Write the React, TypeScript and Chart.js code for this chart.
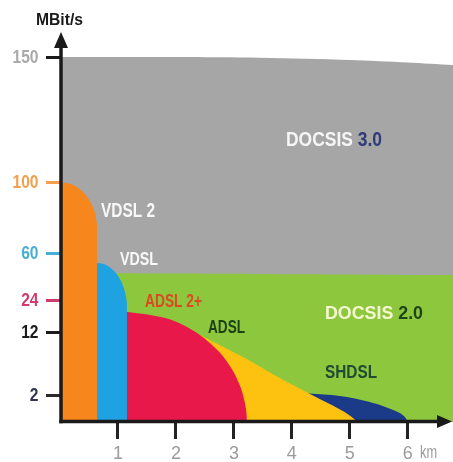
import React, { useEffect, useRef } from 'react';
import { Chart, registerables, LinearScale } from 'chart.js';

Chart.register(...registerables);

// ---------------- data ----------------
const xUnit = 'km';
const yUnit = 'MBit/s';
const xTickValues = [1, 2, 3, 4, 5, 6];
const xTickLabels = ['1', '2', '3', '4', '5', '6'];
const yTickValues = [2, 12, 24, 60, 100, 150];
const yTickLabels = ['2', '12', '24', '60', '100', '150'];

// distance (km) / speed (MBit/s) outlines of each technology
const docsis30Km = [0, 2, 3.45, 5, 6, 6.78];
const docsis30Speed = [150, 150, 149.7, 148.8, 147.8, 146.8];

const docsis20Km = [0, 3.4, 6.78];
const docsis20Speed = [44.7, 44, 43.1];

const vdsl2Km = [0, 0.22, 0.41, 0.52, 0.6, 0.63, 0.64, 0.64];
const vdsl2Speed = [100, 98.5, 94, 89, 83, 78, 74.5, 0];

const vdslKm = [0, 0.64, 0.82, 0.97, 1.06, 1.12, 1.15, 1.155, 1.155];
const vdslSpeed = [52.3, 52.3, 50.3, 44.5, 37.9, 30.1, 23.7, 21.4, 0];

const adsl2pKm = [0.9, 1.155, 1.86, 2.34, 2.74, 2.98, 3.12, 3.19, 3.22, 3.224];
const adsl2pSpeed = [19.5, 19.5, 17.0, 12.0, 8.9, 5.9, 3.1, 1.4, 0.57, 0];

const adslKm = [0.9, 1.155, 2.19, 2.76, 3.28, 3.79, 4.48, 4.91, 5.14];
const adslSpeed = [18, 17.25, 12.75, 9.9, 7.4, 4.7, 1.7, 0.74, 0];

const shdslKm = [3.28, 4.43, 4.95, 5.52, 5.86, 5.95, 6.0];
const shdslSpeed = [2.3, 2.16, 1.85, 1.26, 0.67, 0.37, 0];

// ---------------- styling ----------------
const yKnotValues = [0, ...yTickValues];
const yKnotFractions = [0, 27 / 365, 90 / 365, 122 / 365, 169 / 365, 240 / 365, 1];
const yTickColors = ['#2f3552', '#1a1a1a', '#cf3c6c', '#4aaed2', '#f3a04e', '#a9a9a9'];
const yTickMarkColors = ['#2a2a2a', '#1a1a1a', '#cf3c6c', '#4aaed2', '#f3a04e', '#1a1a1a'];

function valueToFraction(v: number): number {
  const vs = yKnotValues;
  const fs = yKnotFractions;
  for (let i = 1; i < vs.length; i++) {
    if (v <= vs[i] || i === vs.length - 1) {
      return fs[i - 1] + ((v - vs[i - 1]) / (vs[i] - vs[i - 1])) * (fs[i] - fs[i - 1]);
    }
  }
  return 0;
}
function fractionToValue(f: number): number {
  const vs = yKnotValues;
  const fs = yKnotFractions;
  for (let i = 1; i < fs.length; i++) {
    if (f <= fs[i] || i === fs.length - 1) {
      return vs[i - 1] + ((f - fs[i - 1]) / (fs[i] - fs[i - 1])) * (vs[i] - vs[i - 1]);
    }
  }
  return 0;
}

class SpeedScale extends LinearScale {
  static id = 'speed';
  static defaults = {};
  getPixelForValue(value: number) {
    return this.getPixelForDecimal(valueToFraction(value));
  }
  getValueForPixel(pixel: number) {
    return fractionToValue(this.getDecimalForPixel(pixel));
  }
}
Chart.register(SpeedScale as any);

const series = [
  { label: 'VDSL 2', km: vdsl2Km, speed: vdsl2Speed, color: '#f7861c' },
  { label: 'VDSL', km: vdslKm, speed: vdslSpeed, color: '#1ea2e2' },
  { label: 'ADSL 2+', km: adsl2pKm, speed: adsl2pSpeed, color: '#e8184b' },
  { label: 'ADSL', km: adslKm, speed: adslSpeed, color: '#fdc20f' },
  { label: 'SHDSL', km: shdslKm, speed: shdslSpeed, color: '#1b3a87' },
  { label: 'DOCSIS 2.0', km: docsis20Km, speed: docsis20Speed, color: '#8dc73d' },
  { label: 'DOCSIS 3.0', km: docsis30Km, speed: docsis30Speed, color: '#a6a6a6' },
];

const FONT = '"Liberation Sans", Arial, sans-serif';

function drawText(
  ctx: CanvasRenderingContext2D,
  parts: { text: string; color: string }[],
  x: number,
  cy: number,
  size: number,
  opts: { width?: number; sx?: number; weight?: string; align?: 'left' | 'right' }
) {
  const weight = opts.weight || 'bold';
  ctx.save();
  ctx.font = `${weight} ${size}px ${FONT}`;
  const widths = parts.map((p) => ctx.measureText(p.text).width);
  const total = widths.reduce((a, b) => a + b, 0);
  const sx = opts.width ? opts.width / total : opts.sx || 1;
  const left = opts.align === 'right' ? x - total * sx : x;
  ctx.translate(left, cy);
  ctx.scale(sx, 1);
  ctx.textBaseline = 'middle';
  ctx.textAlign = 'left';
  let cx = 0;
  parts.forEach((p, i) => {
    ctx.fillStyle = p.color;
    ctx.fillText(p.text, cx, 0);
    cx += widths[i];
  });
  ctx.restore();
}

const overlayPlugin = {
  id: 'overlay',
  afterDraw(chart: any) {
    const ctx: CanvasRenderingContext2D = chart.ctx;
    const xs = chart.scales.x;
    const ys = chart.scales.y;
    const ax = xs.getPixelForValue(0) + 1;
    const ay = ys.getPixelForValue(0) - 0.5;
    ctx.save();
    ctx.strokeStyle = '#1a1a1a';
    ctx.fillStyle = '#1a1a1a';
    ctx.lineWidth = 3.5;
    ctx.beginPath();
    ctx.moveTo(ax, ay + 1.75);
    ctx.lineTo(ax, 46);
    ctx.stroke();
    ctx.beginPath();
    ctx.moveTo(ax, 32);
    ctx.lineTo(ax - 7, 48);
    ctx.lineTo(ax + 7, 48);
    ctx.closePath();
    ctx.fill();
    ctx.beginPath();
    ctx.moveTo(ax - 1.75, ay);
    ctx.lineTo(440, ay);
    ctx.stroke();
    ctx.beginPath();
    ctx.moveTo(452, ay);
    ctx.lineTo(437, ay - 6.5);
    ctx.lineTo(437, ay + 6.5);
    ctx.closePath();
    ctx.fill();
    ctx.restore();

    // y tick labels (condensed bold, coloured) placed via the scale
    yTickValues.forEach((v, i) => {
      drawText(ctx, [{ text: yTickLabels[i], color: yTickColors[i] }], 38.5, ys.getPixelForValue(v) + 0.5, 19, {
        sx: 0.82,
        align: 'right',
      });
    });

    drawText(ctx, [{ text: yUnit, color: '#1a1a1a' }], 36, 21, 16, { width: 47 });
    drawText(ctx, [{ text: xUnit, color: '#9b9b9b' }], 420, 453, 18, { width: 17, weight: 'normal' });
    drawText(ctx, [{ text: 'DOCSIS ', color: '#f6f6f6' }, { text: '3.0', color: '#2e3c78' }], 286, 140, 20, { width: 96 });
    drawText(ctx, [{ text: 'VDSL 2', color: '#f8f8f8' }], 101, 211, 20, { width: 54 });
    drawText(ctx, [{ text: 'VDSL', color: '#f8f8f8' }], 120, 260, 19, { width: 38 });
    drawText(ctx, [{ text: 'ADSL 2+', color: '#dc4a22' }], 145, 302, 19, { width: 57 });
    drawText(ctx, [{ text: 'ADSL', color: '#1d3f14' }], 208, 328, 18.5, { width: 37 });
    drawText(ctx, [{ text: 'DOCSIS ', color: '#f3f8cf' }, { text: '2.0', color: '#1f4418' }], 325, 314, 19, { width: 98 });
    drawText(ctx, [{ text: 'SHDSL', color: '#214b35' }], 325, 373, 18.5, { width: 52 });
  },
};

export default function App() {
  const ref = useRef<HTMLCanvasElement | null>(null);
  useEffect(() => {
    if (!ref.current) return;
    const chart = new Chart(ref.current, {
      type: 'line',
      data: {
        datasets: series.map((s) => ({
          label: s.label,
          data: s.km.map((x, i) => ({ x, y: s.speed[i] })),
          backgroundColor: s.color,
          borderColor: 'rgba(0,0,0,0)',
          borderWidth: 0,
          fill: 'origin',
          pointRadius: 0,
          tension: 0.3,
        })),
      },
      options: {
        responsive: false,
        animation: false,
        events: [],
        layout: { padding: { top: 57, left: 0, right: 0, bottom: 0 } },
        plugins: {
          legend: { display: false },
          tooltip: { enabled: false },
          title: { display: false },
        },
        scales: {
          x: {
            type: 'linear',
            position: 'bottom',
            min: 0,
            max: 6.78,
            afterFit: (s: any) => {
              s.height = 40;
            },
            afterBuildTicks: (s: any) => {
              s.ticks = xTickValues.map((v) => ({ value: v }));
            },
            border: { display: false },
            grid: {
              display: true,
              drawOnChartArea: false,
              drawTicks: true,
              tickLength: 17,
              tickWidth: 3,
              tickColor: '#222222',
              color: 'rgba(0,0,0,0)',
            },
            ticks: {
              autoSkip: false,
              maxRotation: 0,
              padding: 4,
              color: '#9b9b9b',
              font: { family: FONT, size: 18, weight: 'normal' },
              callback: (_v: any, i: number) => xTickLabels[i],
            },
          },
          y: {
            type: 'speed' as any,
            position: 'left',
            min: 0,
            max: 150,
            afterFit: (s: any) => {
              s.width = 60;
            },
            afterBuildTicks: (s: any) => {
              s.ticks = yTickValues.map((v) => ({ value: v }));
            },
            border: { display: false },
            grid: {
              display: true,
              drawOnChartArea: false,
              drawTicks: true,
              tickLength: 14,
              tickWidth: 3,
              tickColor: (c: any) => yTickMarkColors[c.index] || '#1a1a1a',
              color: 'rgba(0,0,0,0)',
            },
            ticks: {
              display: false,
              autoSkip: false,
              callback: (_v: any, i: number) => yTickLabels[i],
            },
          },
        },
      } as any,
      plugins: [overlayPlugin],
    });
    return () => chart.destroy();
  }, []);
  return (
    <div style={{ position: 'absolute', left: 0, top: 0, width: 453, height: 462, background: '#ffffff' }}>
      <canvas ref={ref} width={453} height={462} style={{ display: 'block' }} />
    </div>
  );
}
